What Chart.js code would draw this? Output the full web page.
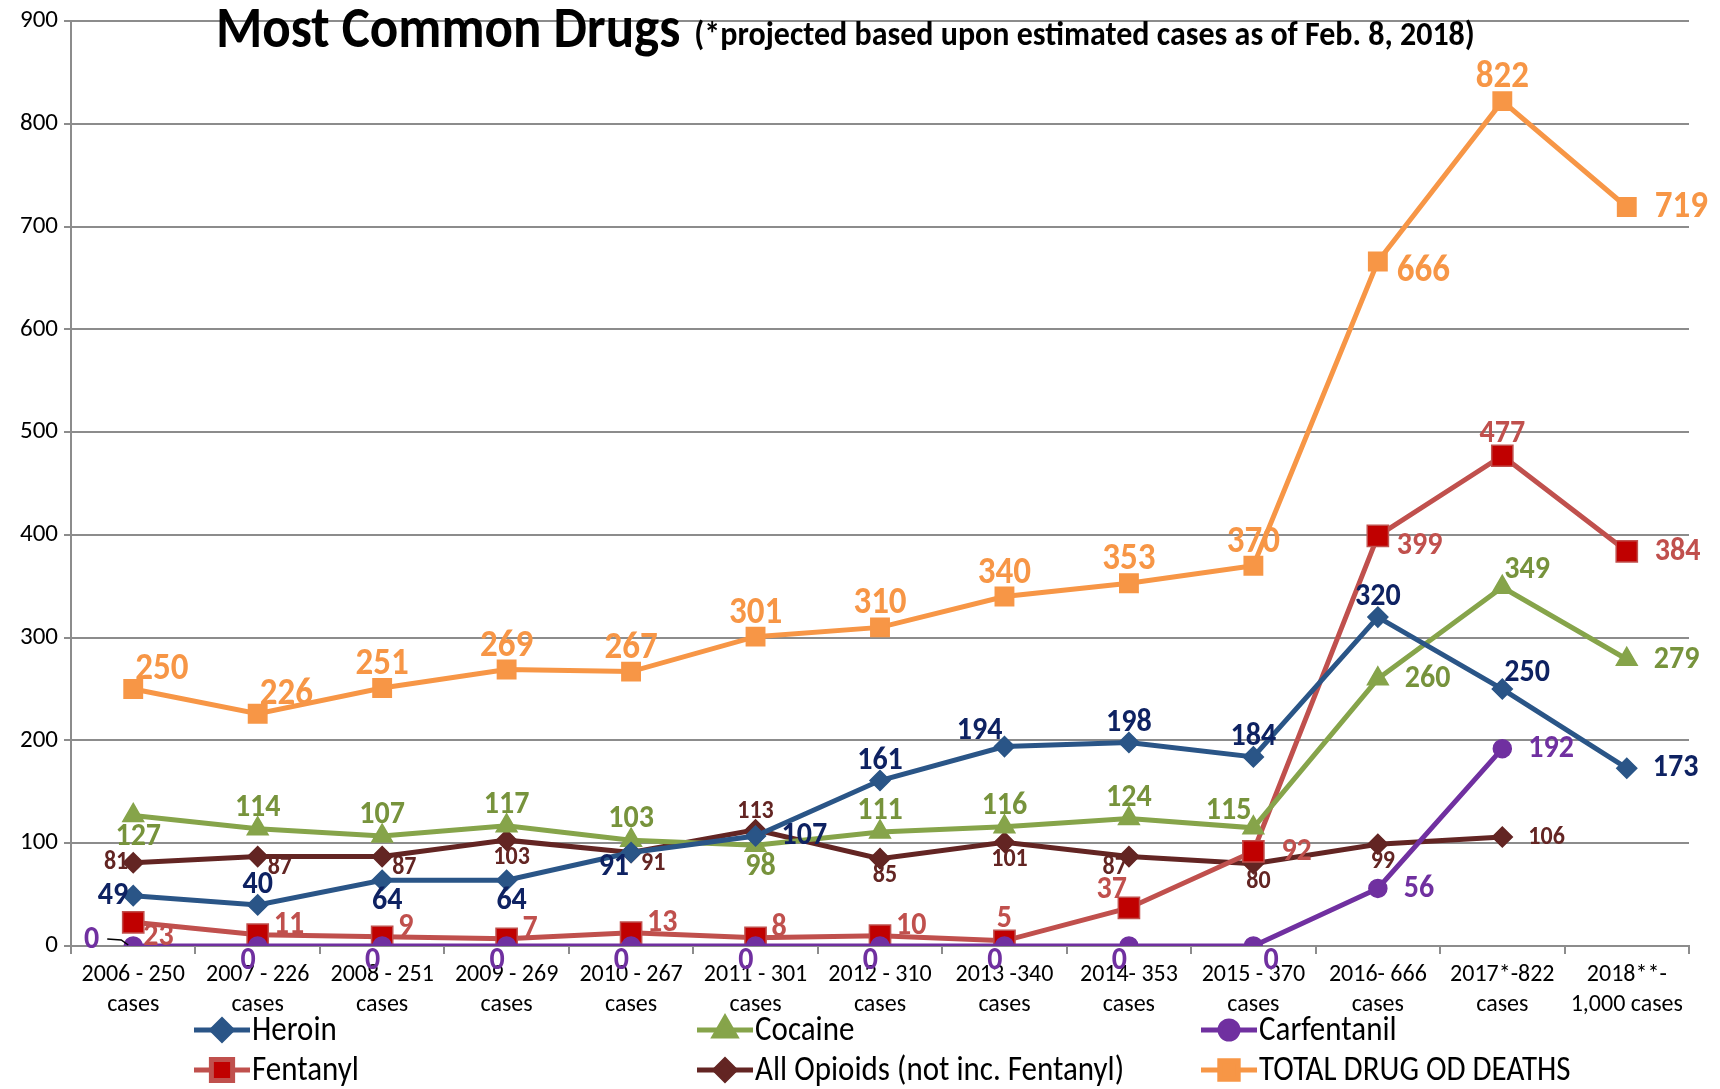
<!DOCTYPE html>
<html>
<head>
<meta charset="utf-8">
<script src="https://cdn.jsdelivr.net/npm/chart.js@4.4.1/dist/chart.umd.min.js"></script>
<style>
  html, body { margin: 0; padding: 0; background: #fff; }
</style>
</head>
<body>
<canvas id="drugs-chart" width="1720" height="1089"></canvas>
<script>
// categories (x tick labels, two lines each)
const years = [
  ['2006 - 250', 'cases'], ['2007 - 226', 'cases'], ['2008 - 251', 'cases'],
  ['2009 - 269', 'cases'], ['2010 - 267', 'cases'], ['2011 - 301', 'cases'],
  ['2012 - 310', 'cases'], ['2013 -340', 'cases'], ['2014- 353', 'cases'],
  ['2015 - 370', 'cases'], ['2016- 666', 'cases'], ['2017*-822', 'cases'],
  ['2018**-', '1,000 cases']
];

// series values
const heroin      = [49, 40, 64, 64, 91, 107, 161, 194, 198, 184, 320, 250, 173];
const cocaine     = [127, 114, 107, 117, 103, 98, 111, 116, 124, 115, 260, 349, 279];
const carfentanil = [0, 0, 0, 0, 0, 0, 0, 0, 0, 0, 56, 192, null];
const fentanyl    = [23, 11, 9, 7, 13, 8, 10, 5, 37, 92, 399, 477, 384];
const allOpioids  = [81, 87, 87, 103, 91, 113, 85, 101, 87, 80, 99, 106, null];
const totalDeaths = [250, 226, 251, 269, 267, 301, 310, 340, 353, 370, 666, 822, 719];

// y axis ticks
const yTicks = [0, 100, 200, 300, 400, 500, 600, 700, 800, 900];

// where each value label sits relative to its point
const heroinPos   = ['w','n','s','s','sw','e','n','nw','n','n','n','ne','e'];
const cocainePos  = ['s','n','n','n','n','s','n','n','n','nw','e','ne','e'];
const carfPos     = ['wl','sw','sw','sw','sw','sw','sw','sw','sw','se','e','e','e'];
const fentPos     = ['se','ene','ene','ene','ene','ene','ene','n','nw','e','es','n','e'];
const opioidPos   = ['w','se','se','s','se','n','s','s','sw','s','s','e','e'];
const totalPos    = ['ne','ne','n','n','n','n','n','n','n','n','es','n','e'];

const FONT = 'Carlito, Calibri, "Open Sans", sans-serif';
const STRETCH = 1.1;   // the original text is a little taller than it is wide

function tallText(ctx, text, x, y) {
  ctx.save();
  ctx.translate(x, y);
  ctx.scale(1, STRETCH);
  ctx.fillText(text, 0, 0);
  ctx.restore();
}

const valueLabels = {
  id: 'valueLabels',
  afterDatasetsDraw(chart) {
    const ctx = chart.ctx;
    chart.data.datasets.forEach((ds, i) => {
      const meta = chart.getDatasetMeta(i);
      meta.data.forEach((pt, j) => {
        const v = ds.data[j];
        if (v === null || v === undefined) return;
        const p = ds.labelPos[j];
        let x = pt.x, y = pt.y, align = 'center', base = 'middle';
        const g = ds.labelGap;
        ctx.save();
        if (p === 'n') { y -= g; base = 'alphabetic'; }
        else if (p === 's') { x += 5; y += g - 8; base = 'top'; }
        else if (p === 'e') { x += g + 14; align = 'left'; }
        else if (p === 'es') { x += g + 5; y += 10; align = 'left'; }
        else if (p === 'ene') { x += g + 2; y -= 10; align = 'left'; }
        else if (p === 'w') { x -= 5; align = 'right'; }
        else if (p === 'ne') { x += 2; y -= g - 4; align = 'left'; base = 'alphabetic'; }
        else if (p === 'nw') { x -= 2; y -= g - 4; align = 'right'; base = 'alphabetic'; }
        else if (p === 'se') { x += 10; y -= 2; align = 'left'; base = 'top'; }
        else if (p === 'sw') { x -= 2; y -= 2; align = 'right'; base = 'top'; }
        else if (p === 'wl') {
          // label pulled to the left with a small leader line
          ctx.strokeStyle = '#000';
          ctx.lineWidth = 1.5;
          ctx.beginPath();
          ctx.moveTo(x - 26, y - 7);
          ctx.lineTo(x - 12, y - 6);
          ctx.lineTo(x - 5, y - 1);
          ctx.stroke();
          x -= 34; y -= 6; align = 'right';
        }
        ctx.font = 'bold ' + ds.labelSize + 'px ' + FONT;
        ctx.fillStyle = ds.labelColor;
        ctx.textAlign = align;
        ctx.textBaseline = base;
        tallText(ctx, String(v), x, y);
        ctx.restore();
      });
    });
  }
};

const titleAndLegend = {
  id: 'titleAndLegend',
  afterDraw(chart) {
    const ctx = chart.ctx;
    ctx.save();
    ctx.fillStyle = '#000';
    ctx.textBaseline = 'alphabetic';
    ctx.textAlign = 'left';
    ctx.font = 'bold 53px ' + FONT;
    const t1 = 'Most Common Drugs';
    tallText(ctx, t1, 216, 47);
    const w1 = ctx.measureText(t1).width;
    ctx.font = 'bold 32px ' + FONT;
    tallText(ctx, '(*projected based upon estimated cases as of Feb. 8, 2018)', 216 + w1 + 14, 45);

    // legend, three columns by two rows
    const colX = [194, 697, 1201];
    const rowY = [1030, 1070];
    chart.data.datasets.forEach((ds, i) => {
      const x = colX[i % 3];
      const y = rowY[Math.floor(i / 3)];
      ctx.strokeStyle = ds.borderColor;
      ctx.lineWidth = 5;
      ctx.beginPath();
      ctx.moveTo(x, y);
      ctx.lineTo(x + 56, y);
      ctx.stroke();
      ctx.fillStyle = ds.pointBackgroundColor;
      ctx.strokeStyle = ds.pointBorderColor;
      Chart.helpers.drawPoint(ctx, {
        pointStyle: ds.pointStyle,
        radius: ds.pointRadius,
        borderWidth: 1.5,
        rotation: 0
      }, x + 28, y);
      ctx.fillStyle = '#000';
      ctx.font = '31px ' + FONT;
      ctx.textBaseline = 'middle';
      tallText(ctx, ds.label, x + 58, y + 1);
    });
    ctx.restore();
  }
};

function series(label, data, color, style, radius, labelColor, labelSize, pos, gap, pointFill) {
  return {
    label: label,
    data: data,
    borderColor: color,
    backgroundColor: color,
    borderWidth: 5,
    pointStyle: style,
    pointRadius: radius,
    pointHoverRadius: radius,
    pointBackgroundColor: pointFill || color,
    pointBorderColor: color,
    pointBorderWidth: 1.5,
    tension: 0,
    fill: false,
    labelColor: labelColor,
    labelSize: labelSize,
    labelPos: pos,
    labelGap: gap
  };
}

const ctx = document.getElementById('drugs-chart').getContext('2d');
const chart = new Chart(ctx, {
  type: 'line',
  data: {
    labels: years,
    datasets: [
      series('Heroin', heroin, '#2A5587', 'rectRot', 10, '#0E2262', 30, heroinPos, 12),
      series('Cocaine', cocaine, '#86A44A', 'triangle', 12, '#77933C', 30, cocainePos, 13),
      series('Carfentanil', carfentanil, '#7030A0', 'circle', 9, '#7030A0', 30, carfPos, 12),
      series('Fentanyl', fentanyl, '#C0504D', 'rect', 15, '#C0504D', 30, fentPos, 14, '#C00000'),
      series('All Opioids (not inc. Fentanyl)', allOpioids, '#632523', 'rectRot', 10, '#632523', 24, opioidPos, 12),
      series('TOTAL DRUG OD DEATHS', totalDeaths, '#F79646', 'rect', 13, '#F79646', 35, totalPos, 14)
    ]
  },
  options: {
    responsive: false,
    devicePixelRatio: 1,
    animation: false,
    layout: { padding: { top: 16, right: 31, left: 0, bottom: 73 } },
    plugins: {
      legend: { display: false },
      tooltip: { enabled: false },
      title: { display: false }
    },
    scales: {
      x: {
        offset: true,
        grid: {
          offset: true,
          drawOnChartArea: false,
          color: '#8C8C8C',
          lineWidth: 2,
          tickLength: 8
        },
        border: { color: '#8C8C8C', width: 2 },
        ticks: {
          color: '#000',
          font: { family: FONT, size: 24, lineHeight: 1.25 },
          padding: 6,
          maxRotation: 0,
          autoSkip: false
        },
        afterFit(scale) { scale.height = 70; }
      },
      y: {
        min: 0,
        max: 900,
        afterBuildTicks(scale) { scale.ticks = yTicks.map(v => ({ value: v })); },
        grid: {
          color: '#8C8C8C',
          lineWidth: 2,
          tickLength: 7
        },
        border: { color: '#8C8C8C', width: 2 },
        ticks: {
          color: '#000',
          font: { family: FONT, size: 25 },
          padding: 6
        },
        afterFit(scale) { scale.width = 71; }
      }
    }
  },
  plugins: [valueLabels, titleAndLegend]
});
</script>
</body>
</html>
